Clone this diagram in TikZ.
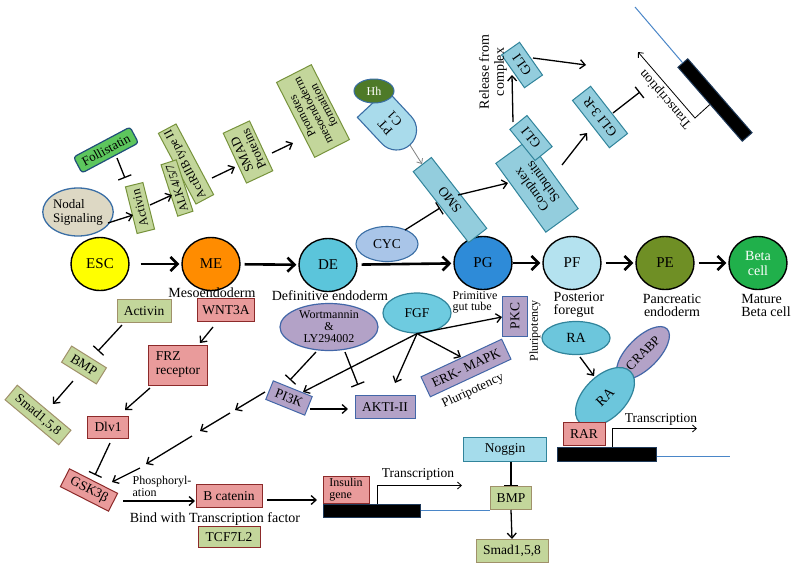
\documentclass[tikz,border=0pt]{standalone}
\usepackage{fontspec}
\setmainfont{Liberation Serif}
\usetikzlibrary{arrows.meta,shapes.geometric,shapes.misc,calc}
\definecolor{gfill}{HTML}{C3D69B}
\definecolor{gdraw}{HTML}{77933C}
\definecolor{tdraw}{HTML}{A0916A}
\definecolor{rfill}{HTML}{E99B9B}
\definecolor{rdraw}{HTML}{8C2A2A}
\definecolor{pfill}{HTML}{B3A2C7}
\definecolor{pdraw}{HTML}{4367A8}
\definecolor{bfill}{HTML}{93CDDD}
\definecolor{bdraw}{HTML}{31849B}
\definecolor{nogfill}{HTML}{A5DCEB}
\definecolor{escc}{HTML}{FFFF00}
\definecolor{mec}{HTML}{FF8C00}
\definecolor{dec}{HTML}{5BC5DB}
\definecolor{pgc}{HTML}{2E8BD8}
\definecolor{pfc}{HTML}{B4E2EF}
\definecolor{pec}{HTML}{6F8F25}
\definecolor{betac}{HTML}{20B04B}
\definecolor{cycc}{HTML}{A9C5E8}
\definecolor{nodalc}{HTML}{DDD8C4}
\definecolor{follic}{HTML}{5DC65D}
\definecolor{follid}{HTML}{1F4E79}
\definecolor{hhc}{HTML}{4E7A28}
\definecolor{ptcc}{HTML}{A9DBEB}
\definecolor{fgfc}{HTML}{6ECBE0}
\definecolor{rac}{HTML}{6CC6DC}
\definecolor{edgec}{HTML}{3A6EA5}
\definecolor{dnablue}{HTML}{4A86C8}
\definecolor{dnaedge}{HTML}{1F3A5A}
\newcommand\myfs[2]{\fontsize{#1}{#2}\selectfont}
\begin{document}
\begin{tikzpicture}[x=1pt,y=-1pt,
 stage/.style={ellipse, draw=black, line width=1.4pt, minimum width=58pt, minimum height=53pt, inner sep=0pt, font=\myfs{15}{15}, align=center},
 sub/.style={inner sep=0pt, font=\myfs{14}{13}},
 box/.style={rectangle, inner sep=1pt, align=center, font=\myfs{13.5}{14}, line width=1pt},
 gbox/.style={box, fill=gfill, draw=gdraw},
 tbox/.style={box, fill=gfill, draw=tdraw},
 rbox/.style={box, fill=rfill, draw=rdraw},
 pbox/.style={box, fill=pfill, draw=pdraw},
 bbox/.style={box, fill=bfill, draw=bdraw},
 lbl/.style={inner sep=0pt, align=center, font=\myfs{13.5}{14}},
 arr/.style={line width=1.3pt, -{Straight Barb[length=5pt, width=9pt]}},
 bigarr/.style={line width=2.6pt, -{Straight Barb[length=7pt, width=14pt]}, shorten <=4pt, shorten >=2pt},
 inh/.style={line width=1.3pt, -{Bar[width=14pt]}},
 tarr/.style={line width=0.8pt, -{Straight Barb[length=4pt, width=7pt]}},
 dnabar/.style={rectangle, fill=black, draw=dnaedge, line width=1pt, minimum height=13pt, inner sep=0pt},
 dnaline/.style={draw=dnablue, line width=1pt}]
\path[use as bounding box, fill=white] (0,0) rectangle (793,568);

% ---------------- main row ----------------
\node[stage, fill=escc] (esc) at (100,264) {ESC};
\node[stage, fill=mec] (me) at (211,264) {ME};
\node[stage, fill=dec] (de) at (328,265) {DE};
\node[stage, fill=pgc] (pg) at (483,263) {PG};
\node[stage, fill=pfc] (pf) at (572,263) {PF};
\node[stage, fill=pec] (pe) at (665,263) {PE};
\node[stage, fill=betac, text=white, font=\myfs{14}{15}] (beta) at (758,263) {Beta\\cell};
\draw[bigarr, shorten <=11pt] (esc) -- (me);
\draw[bigarr] (me) -- (de);
\draw[bigarr] (de) -- (pg);
\draw[bigarr, shorten <=0pt] (pg) -- (pf);
\draw[bigarr] (pf) -- (pe);
\draw[bigarr] (pe) -- (beta);

\node[sub] (lme) at (212,293) {Mesoendoderm};
\node[sub] (lde) at (330,296) {Definitive endoderm};
\node[sub, align=left, font=\myfs{12}{11}] (lpg) at (475,302) {Primitive\\gut tube};
\node[sub, align=left] (lpf) at (579,305) {Posterior\\foregut};
\node[sub, align=center] (lpe) at (672,305) {Pancreatic\\endoderm};
\node[sub, align=left] (lbeta) at (766,305) {Mature\\Beta cell};

% ---------------- Nodal / Activin group ----------------
\node[ellipse, draw=edgec, fill=nodalc, line width=1.3pt, minimum width=68pt, minimum height=48pt, inner sep=0pt, align=left, font=\myfs{13}{14}] (nodal) at (78,212) {Nodal\\Signaling};
\node[rectangle, rounded corners=3pt, fill=follic, draw=follid, line width=1.2pt, minimum width=64pt, minimum height=18pt, inner sep=1pt, rotate=28, font=\myfs{13}{13}] (folli) at (106,150) {Follistatin};
\node[gbox, rotate=104, minimum width=48pt, minimum height=18pt, font=\myfs{12.5}{13}] (act1) at (140,208) {Activin};
\node[gbox, rotate=118, minimum width=80pt, minimum height=20pt, font=\myfs{12}{12}] (actr) at (186,164) {ActRIIB type II};
\node[gbox, rotate=108, minimum width=54pt, minimum height=16pt, font=\myfs{12}{12}] (alk) at (177,188) {ALK4/5/7};
\node[gbox, rotate=115, minimum width=55pt, minimum height=29pt, font=\myfs{13}{13}] (smad) at (248,152) {SMAD\\Proteins};
\node[gbox, rotate=117, minimum width=84pt, minimum height=39pt, font=\myfs{12}{12}] (prom) at (313,111) {Promotes\\mesoendoderm\\formation};

\draw[inh] ($(folli)+(11,8)$) -- ($(act1)+(-15,-30)$);
\draw[arr] ($(nodal)+(30,11)$) -- ($(act1)+(-7,7)$);
\draw[arr] ($(act1)+(10,-3)$) -- ($(alk)+(-5,7)$);
\draw[arr] ($(actr)+(26,14)$) -- ($(smad)+(-13,15)$);
\draw[arr] ($(smad)+(24,1)$) -- ($(prom)+(-20,32)$);

% ---------------- Hedgehog group ----------------
\node[rounded rectangle, rounded rectangle right arc=none, fill=ptcc, draw=edgec, line width=1.1pt, rotate=133, minimum width=58pt, minimum height=40pt, inner sep=1pt, align=center, font=\myfs{13}{13}] (ptc) at (390,123) {PT\\C1};
\node[ellipse, fill=hhc, draw=edgec, line width=1pt, minimum width=40pt, minimum height=24pt, inner sep=0pt, text=white, font=\myfs{12}{12}] (hh) at (374,91) {Hh};
\node[bbox, rotate=128, minimum width=90pt, minimum height=23pt] (smo) at (450,200) {SMO};
\node[ellipse, fill=cycc, draw=edgec, line width=1.1pt, minimum width=62pt, minimum height=35pt, inner sep=0pt, font=\myfs{13.5}{14}] (cyc) at (387,244) {CYC};
\node[bbox, rotate=126, minimum width=85pt, minimum height=40pt] (cplx) at (537,186) {Complex\\Subunits};
\node[bbox, rotate=129, minimum width=40pt, minimum height=22pt] (gli1) at (531,138) {GLI};
\node[bbox, rotate=125, minimum width=40pt, minimum height=22pt] (gli2) at (522,65) {GLI};
\node[lbl, rotate=90, font=\myfs{14}{15}] (rel) at (493,72) {Release from\\complex};
\node[bbox, rotate=128, minimum width=60pt, minimum height=23pt] (gli3r) at (600,117) {GLI 3-R};
\node[dnabar, rotate=-49, minimum width=98pt] (dna1) at (715,100) {};
\coordinate (dnaend1) at (635,7);
\draw[dnaline] (dna1.west) -- (dnaend1);
\coordinate (tb1) at (695,118);
\coordinate (tt1) at (638,52);
\draw[tarr] (dna1.south) -- (tb1) -- (tt1);
\node[lbl, rotate=131] (tr1) at (666,99) {Transcription};
\coordinate (gli2out) at (586,65);
\coordinate (glibar) at (640,92);

\draw[tarr, draw=gray] ($(ptc)+(20,22)$) -- ($(smo)+(-28,-36)$);
\draw[inh] ($(cyc)+(18,-14)$) -- ($(smo)+(-10,8)$);
\draw[arr] ($(smo)+(8,-5)$) -- ($(cplx)+(-29,-3)$);
\draw[arr] ($(gli1)+(-18,-16)$) -- ($(gli2)+(-10,10)$);
\draw[arr] ($(gli2)+(11,-7)$) -- (gli2out);
\draw[arr] ($(cplx)+(25,-21)$) -- ($(gli3r)+(-13,16)$);
\draw[inh] ($(gli3r)+(13,-4)$) -- (glibar);

% ---------------- lower left ----------------
\node[tbox, minimum width=54pt, minimum height=23pt] (act2) at (144,311) {Activin};
\node[tbox, rotate=-32, minimum width=41pt, minimum height=19pt] (bmp1) at (84,365) {BMP};
\node[tbox, rotate=-40, minimum width=70pt, minimum height=19pt, font=\myfs{13}{13}] (smad1) at (38,415) {Smad1,5,8};
\draw[inh] ($(act2)+(-22,14)$) -- ($(bmp1)+(14,-14)$);
\draw[arr] ($(bmp1)+(-11,16)$) -- ($(smad1)+(15,-11)$);

\node[rbox, minimum width=57pt, minimum height=23pt] (wnt) at (226,310) {WNT3A};
\node[rbox, minimum width=59pt, minimum height=40pt, align=left] (frz) at (178,365) {FRZ\\receptor};
\node[rbox, minimum width=41pt, minimum height=22pt] (dlv) at (108,427) {Dlv1};
\node[rbox, rotate=-27, minimum width=54pt, minimum height=20pt] (gsk) at (89,490) {GSK3β};
\draw[arr] ($(wnt)+(-13,17)$) -- ($(frz)+(22,-22)$);
\draw[arr] ($(frz)+(-28,23)$) -- ($(dlv)+(17,-17)$);
\draw[inh] ($(dlv)+(2,16)$) -- ($(gsk)+(6,-15)$);

\node[lbl, align=left, font=\myfs{12}{12}] (phos) at (162,486) {Phosphoryl-\\ation};
\node[rbox, minimum width=66pt, minimum height=23pt] (bcat) at (229,496) {B catenin};
\node[lbl, font=\myfs{14}{14}] (bind) at (215,519) {Bind with Transcription factor};
\node[box, fill=gfill, draw=rdraw, minimum width=62pt, minimum height=21pt] (tcf) at (229,537) {TCF7L2};
\draw[arr] ($(gsk)+(34,11)$) -- ($(bcat)+(-34,5)$);

% ---------------- middle ----------------
\node[ellipse, fill=pfill, draw=pdraw, line width=1.2pt, minimum width=98pt, minimum height=47pt, inner sep=0pt, align=center, font=\myfs{12}{12}] (wort) at (329,327) {Wortmannin\\\&\\LY294002};
\node[ellipse, fill=fgfc, draw=bdraw, line width=1.2pt, minimum width=68pt, minimum height=40pt, inner sep=0pt, font=\myfs{13.5}{14}] (fgf) at (417,313) {FGF};
\node[pbox, rotate=90, minimum width=40pt, minimum height=25pt] (pkc) at (515,316) {PKC};
\node[lbl, rotate=90, font=\myfs{12}{12}] (plu1) at (535,331) {Pluripotency};
\node[pbox, rotate=25, minimum width=89pt, minimum height=22pt] (erk) at (466,368) {ERK- MAPK};
\node[lbl, rotate=25, font=\myfs{13}{13}] (plu2) at (473,391) {Pluripotency};
\node[pbox, rotate=-22, minimum width=42pt, minimum height=20pt] (pi3k) at (289,398) {PI3K};
\node[pbox, minimum width=60pt, minimum height=23pt] (akt) at (385,407) {AKTI-II};

\draw[inh] ($(wort)+(-13,25)$) -- ($(pi3k)+(1,-18)$);
\draw[inh] ($(wort)+(16,25)$) -- ($(akt)+(-27,-22)$);
\draw[arr] ($(pi3k)+(21,11)$) -- ($(akt)+(-37,2)$);
\draw[arr] (fgf.south) -- ($(pi3k)+(14,-6)$);
\draw[arr] (fgf.south) -- ($(akt)+(10,-24)$);
\draw[arr] (fgf.south) -- ($(erk)+(-5,-11)$);
\draw[arr] (fgf.south) -- ($(pkc)+(-13,1)$);

% chain PI3K -> GSK3b
\coordinate (ch1) at (235,410);
\coordinate (ch2) at (230,413);
\coordinate (ch3) at (200,431);
\coordinate (ch4) at (192,436);
\coordinate (ch5) at (146,464);
\coordinate (ch6) at (140,468);
\draw[arr] ($(pi3k)+(-24,-6)$) -- (ch1);
\draw[arr] (ch2) -- (ch3);
\draw[arr] (ch4) -- (ch5);
\draw[arr] (ch6) -- ($(gsk)+(23,-8)$);

% ---------------- insulin ----------------
\node[rbox, minimum width=46pt, minimum height=27pt, align=left, font=\myfs{12}{12}] (ins) at (346,490) {Insulin\\gene};
\node[dnabar, minimum width=97pt] (dna2) at (371.5,510.5) {};
\draw[arr] ($(bcat)+(38,4)$) -- ($(ins)+(-29,10)$);
\node[box, fill=nogfill, draw=bdraw, minimum width=83pt, minimum height=24pt] (nog) at (505,449) {Noggin};
\node[tbox, minimum width=41pt, minimum height=23pt] (bmp2) at (511,498) {BMP};
\node[tbox, minimum width=72pt, minimum height=23pt] (smad2) at (512,551) {Smad1,5,8};
\draw[dnaline] (dna2.east) -- (dna2.east -| bmp2.west);
\draw[tarr] ($(dna2.north)+(5.5,0)$) -- ++(0,-18) -- ++(85,0);
\node[lbl] (tr2) at (418,474) {Transcription};
\draw[inh] (bmp2.north |- nog.south) -- (bmp2.north);
\draw[arr] (bmp2.south) -- (smad2.north);

% ---------------- RA group ----------------
\node[ellipse, fill=rac, draw=bdraw, line width=1.2pt, minimum width=68pt, minimum height=33pt, inner sep=0pt, font=\myfs{14}{14}] (ra1) at (576,338) {RA};
\node[ellipse, fill=pfill, draw=pdraw, line width=1.2pt, rotate=45, minimum width=68pt, minimum height=31pt, inner sep=0pt, font=\myfs{13}{13}] (crabp) at (643,353) {CRABP};
\node[ellipse, fill=rac, draw=bdraw, line width=1.2pt, rotate=45, minimum width=72pt, minimum height=42pt, inner sep=0pt, font=\myfs{14}{14}] (ra2) at (605,397) {RA};
\node[rbox, minimum width=42pt, minimum height=23pt] (rar) at (584,434) {RAR};
\node[dnabar, minimum width=99pt, minimum height=14pt] (dna3) at (606.5,454) {};
\coordinate (dnaend3) at (730,456);
\draw[dnaline] ($(dna3.east)+(0,2)$) -- (dnaend3);
\draw[tarr] ($(dna3.north)+(5.5,0)$) -- ++(0,-18) -- ++(85,0);
\node[lbl] (tr3) at (661,419) {Transcription};
\draw[arr] ($(ra1)+(4,19)$) -- ($(ra2)+(-11,-21)$);
\end{tikzpicture}
\end{document}
